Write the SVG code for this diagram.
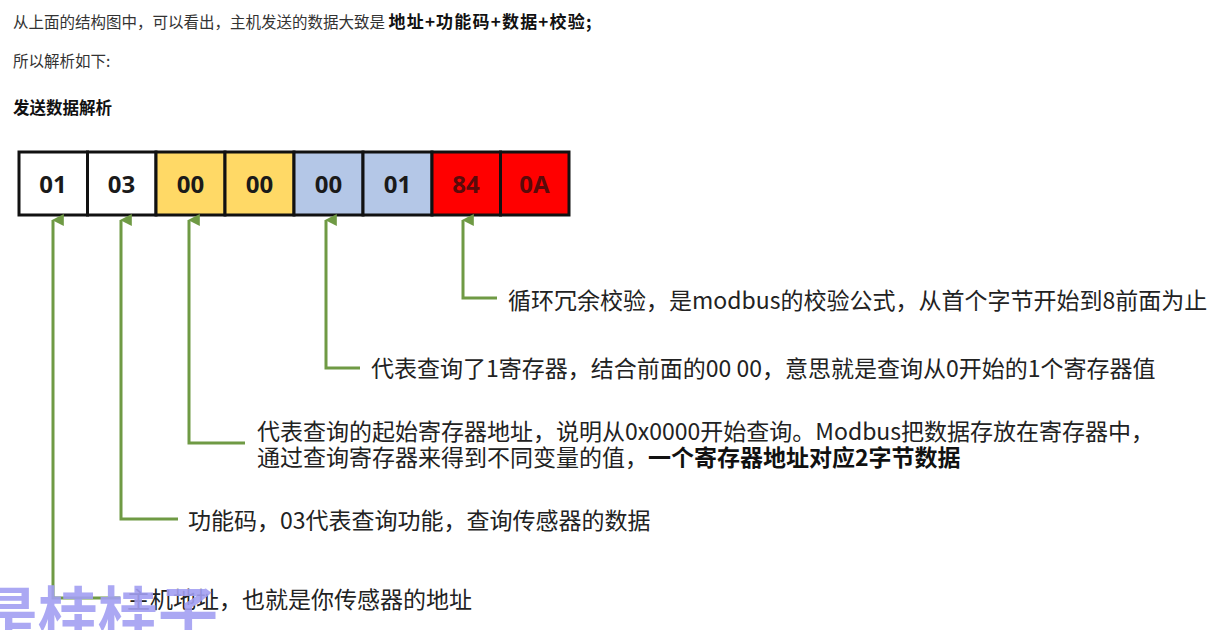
<svg xmlns="http://www.w3.org/2000/svg" width="1218" height="630" viewBox="0 0 1218 630">
<style>
.t{font-family:"Microsoft YaHei","Noto Sans CJK SC","Noto Sans",sans-serif;fill:#222;}
.top{font-size:15.5px;fill:#333;}
.b{font-weight:bold;fill:#111;}
.lbl{font-size:23px;fill:#222;}
.cell{stroke:#111;stroke-width:3;}
.num{font-family:"Noto Sans","Noto Sans CJK SC",sans-serif;font-size:24px;font-weight:bold;fill:#1a1a1a;text-anchor:middle;}
.num.r{fill:#5a0a0a;}
.conn{fill:none;stroke:#6F9A44;stroke-width:3;}
</style>
<defs>
<marker id="ah" viewBox="0 0 10 10" refX="5" refY="1" markerWidth="12" markerHeight="12" markerUnits="userSpaceOnUse" orient="auto-start-reverse">
<path d="M0,10 L5,0 L10,10 Z" fill="#6F9A44"/>
</marker>
</defs>
<rect width="1218" height="630" fill="#ffffff"/>
<g id="header">
<text class="t top" x="13" y="28">从上面的结构图中，可以看出，主机发送的数据大致是 <tspan class="b" font-size="17" letter-spacing="1.2">地址+功能码+数据+校验;</tspan></text>
<text class="t top" x="13" y="67">所以解析如下:</text>
<text class="t b" x="13" y="114" font-size="16.5">发送数据解析</text>
</g>
<g id="frame">
<g id="b1"><rect class="cell" x="19" y="152" width="68.5" height="63" fill="#ffffff"/><text class="num" x="53" y="193">01</text></g>
<g id="b2"><rect class="cell" x="87.5" y="152" width="68.5" height="63" fill="#ffffff"/><text class="num" x="121.5" y="193">03</text></g>
<g id="b3"><rect class="cell" x="156" y="152" width="69" height="63" fill="#FFD966"/><text class="num" x="190.5" y="193">00</text></g>
<g id="b4"><rect class="cell" x="225" y="152" width="69" height="63" fill="#FFD966"/><text class="num" x="259.5" y="193">00</text></g>
<g id="b5"><rect class="cell" x="294" y="152" width="69" height="63" fill="#B4C7E7"/><text class="num" x="328.5" y="193">00</text></g>
<g id="b6"><rect class="cell" x="363" y="152" width="69" height="63" fill="#B4C7E7"/><text class="num" x="397.5" y="193">01</text></g>
<g id="b7"><rect class="cell" x="432" y="152" width="68.5" height="63" fill="#FF0000"/><text class="num r" x="466" y="193">84</text></g>
<g id="b8"><rect class="cell" x="500.5" y="152" width="68.5" height="63" fill="#FF0000"/><text class="num r" x="534.5" y="193">0A</text></g>
</g>
<g id="connectors">
<path class="conn" marker-start="url(#ah)" d="M53,220 V598 H120"/>
<path class="conn" marker-start="url(#ah)" d="M121,220 V519 H178"/>
<path class="conn" marker-start="url(#ah)" d="M189,220 V443 H245"/>
<path class="conn" marker-start="url(#ah)" d="M326,220 V368 H360"/>
<path class="conn" marker-start="url(#ah)" d="M463,220 V298 H497"/>
</g>
<g id="labels">
<text class="t lbl" x="508" y="309">循环冗余校验，是modbus的校验公式，从首个字节开始到8前面为止</text>
<text class="t lbl" x="371" y="377">代表查询了1寄存器，结合前面的00 00，意思就是查询从0开始的1个寄存器值</text>
<text class="t lbl" x="257" y="440">代表查询的起始寄存器地址，说明从0x0000开始查询。Modbus把数据存放在寄存器中，</text>
<text class="t lbl" x="257" y="466">通过查询寄存器来得到不同变量的值，<tspan class="b">一个寄存器地址对应2字节数据</tspan></text>
<text class="t lbl" x="188" y="529">功能码，03代表查询功能，查询传感器的数据</text>
<text class="t lbl" x="127" y="608">主机地址，也就是你传感器的地址</text>
</g>
<g id="watermark">
<text x="-22" y="637" font-family="Noto Sans CJK SC, sans-serif" font-size="60" font-weight="bold" fill="#A29EF2" fill-opacity="0.9">是桂桂子</text>
</g>
</svg>
